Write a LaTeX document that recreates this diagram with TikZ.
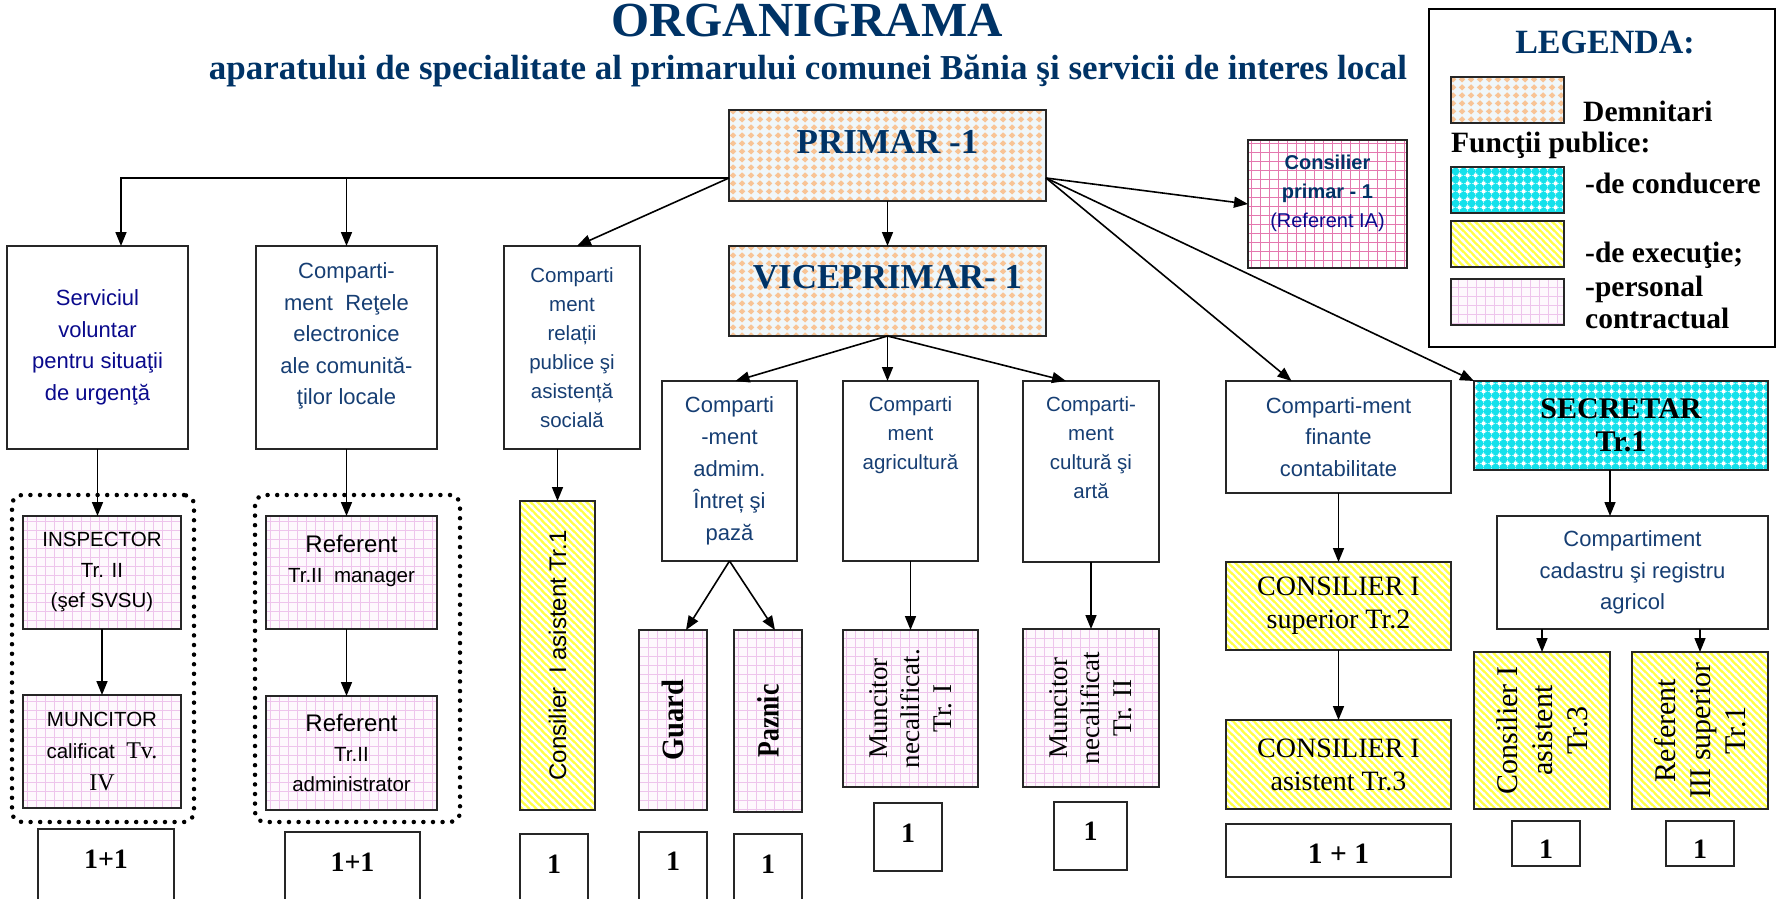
\documentclass[tikz,border=0pt]{standalone}
\usepackage{fontspec}
\setmainfont{Liberation Serif}
\setsansfont{Liberation Sans}
\usetikzlibrary{arrows.meta,patterns,calc}

\definecolor{titleblue}{RGB}{0,51,102}
\definecolor{tblue}{RGB}{22,62,115}
\definecolor{navyc}{RGB}{10,10,140}
\definecolor{peach}{RGB}{248,196,150}
\definecolor{peachbg}{RGB}{240,247,250}
\definecolor{cyanc}{RGB}{20,225,235}
\definecolor{yel}{RGB}{255,255,70}
\definecolor{pinkg}{RGB}{238,196,236}
\definecolor{pinkbg}{RGB}{254,248,253}
\definecolor{pinkst}{RGB}{228,120,175}

\pgfdeclarepatternformonly{pdiam}{\pgfqpoint{0pt}{0pt}}{\pgfqpoint{9pt}{8pt}}{\pgfqpoint{9pt}{8pt}}{%
  \pgfpathmoveto{\pgfqpoint{4.5pt}{0.6pt}}%
  \pgfpathlineto{\pgfqpoint{8.1pt}{4pt}}%
  \pgfpathlineto{\pgfqpoint{4.5pt}{7.4pt}}%
  \pgfpathlineto{\pgfqpoint{0.9pt}{4pt}}%
  \pgfpathclose
  \pgfusepath{fill}}
\pgfdeclarepatternformonly{cchk}{\pgfqpoint{0pt}{0pt}}{\pgfqpoint{8pt}{8pt}}{\pgfqpoint{8pt}{8pt}}{%
  \pgfpathrectangle{\pgfqpoint{2pt}{2pt}}{\pgfqpoint{4pt}{4pt}}%
  \pgfusepath{fill}%
  \pgfsetlinewidth{0.6pt}%
  \pgfpathmoveto{\pgfqpoint{0pt}{4pt}}\pgfpathlineto{\pgfqpoint{8pt}{4pt}}%
  \pgfpathmoveto{\pgfqpoint{4pt}{0pt}}\pgfpathlineto{\pgfqpoint{4pt}{8pt}}%
  \pgfusepath{stroke}}
\pgfdeclarepatternformonly{pgrid}{\pgfqpoint{-0.5pt}{-0.5pt}}{\pgfqpoint{9.5pt}{9.5pt}}{\pgfqpoint{9pt}{9pt}}{%
  \pgfsetlinewidth{0.7pt}%
  \pgfpathmoveto{\pgfqpoint{-0.5pt}{0pt}}\pgfpathlineto{\pgfqpoint{9.5pt}{0pt}}%
  \pgfpathmoveto{\pgfqpoint{0pt}{-0.5pt}}\pgfpathlineto{\pgfqpoint{0pt}{9.5pt}}%
  \pgfusepath{stroke}}
\pgfdeclarepatternformonly{ystr}{\pgfqpoint{-1pt}{-1pt}}{\pgfqpoint{8pt}{8pt}}{\pgfqpoint{7pt}{7pt}}{%
  \pgfsetlinewidth{2.2pt}%
  \pgfpathmoveto{\pgfqpoint{-1pt}{8pt}}\pgfpathlineto{\pgfqpoint{8pt}{-1pt}}%
  \pgfpathmoveto{\pgfqpoint{-1pt}{1pt}}\pgfpathlineto{\pgfqpoint{1pt}{-1pt}}%
  \pgfpathmoveto{\pgfqpoint{6pt}{8pt}}\pgfpathlineto{\pgfqpoint{8pt}{6pt}}%
  \pgfusepath{stroke}}

\newcommand\bx[6][]{\node[box,#1,minimum width={#4-#2},minimum height={#5-#3}] (#6) at ({(#2+#4)/2},{(#3+#5)/2})}

\tikzset{
  box/.style={draw=black!85, line width=1.7pt, inner sep=1pt, outer sep=0pt},
  dem/.style={preaction={fill=peachbg}, pattern=pdiam, pattern color=peach},
  cond/.style={preaction={fill=cyanc}, pattern=cchk, pattern color=white},
  exec/.style={preaction={fill=yel}, pattern=ystr, pattern color=white},
  pers/.style={preaction={fill=pinkbg}, pattern=pgrid, pattern color=pinkg},
  cpr/.style={preaction={fill=white}, pattern=pgrid, pattern color=pinkst},
  dotgrp/.style={draw=black, line width=4.5pt, dash pattern=on 0pt off 9.6pt, line cap=round, rounded corners=10pt, inner sep=0pt},
  lbox/.style={draw=black, line width=2pt},
  t22/.style={font=\sffamily\fontsize{22}{31.5}\selectfont, text=tblue, align=center},
  t20/.style={font=\sffamily\fontsize{20.5}{29}\selectfont, text=tblue, align=center},
  tblk/.style={font=\sffamily\fontsize{20.5}{30.5}\selectfont, text=black, align=center},
  ptext/.style={anchor=base, font=\rmfamily\bfseries\fontsize{35}{35}\selectfont, text=titleblue, inner sep=0pt},
  lgt/.style={anchor=base west, font=\rmfamily\bfseries\fontsize{29.5}{29.5}\selectfont, inner sep=0pt},
  numt/.style={anchor=base, font=\rmfamily\bfseries\fontsize{28}{28}\selectfont, inner sep=0pt},
  arr/.style={line width=1.6pt, -{Triangle[length=14pt,width=11pt]}},
}

\begin{document}
\begin{tikzpicture}[x=1pt,y=-1pt]
\useasboundingbox (0,0) rectangle (1777,899);

% titles
\node[anchor=base, inner sep=0pt, font=\rmfamily\bfseries\fontsize{49}{49}\selectfont, text=titleblue] (title) at (807,37) {ORGANIGRAMA};
\node[anchor=base, inner sep=0pt, font=\rmfamily\bfseries\fontsize{35}{35}\selectfont, text=titleblue] (subtitle) at (808,80) {aparatului de specialitate al primarului comunei Bănia şi servicii de interes local};

% legend
\bx[lbox]{1429}{9}{1775}{347}{legend}{};
\node[anchor=base, inner sep=0pt, font=\rmfamily\bfseries\fontsize{34}{34}\selectfont, text=titleblue] (legT) at (1605,53) {LEGENDA:};
\bx[dem]{1451}{77}{1564}{123}{swA}{};
\bx[cond]{1451}{167}{1564}{213}{swB}{};
\bx[exec]{1451}{221}{1564}{267}{swC}{};
\bx[pers]{1451}{279}{1564}{325}{swD}{};
\node[lgt] (legA) at (1583,121) {Demnitari};
\node[lgt] (legB) at (1451,152) {Funcţii publice:};
\node[lgt] (legC) at (1585,193) {-de conducere};
\node[lgt] (legD) at (1585,262) {-de execuţie;};
\node[lgt] (legE) at (1585,296) {-personal};
\node[lgt] (legF) at (1585,328) {contractual};

% top level
\bx[dem]{729}{110}{1046}{201}{primar}{};
\node[ptext] (primarT) at (887.5,153) {PRIMAR -1};
\bx[dem]{729}{246}{1046}{336}{vice}{};
\node[ptext] (viceT) at (887.5,288) {VICEPRIMAR- 1};
\bx[cpr]{1248}{140}{1407}{268}{cp}{};
\node[font=\sffamily\fontsize{20}{29}\selectfont, align=center, inner sep=0pt] (cpT) at (1327.5,193)
  {\textcolor{titleblue}{\bfseries Consilier}\\\textcolor{titleblue}{\bfseries primar - 1}\\\textcolor{navyc}{(Referent IA)}};

% departments
\bx[t22,text=navyc]{7}{246}{188}{449}{serv}{Serviciul\\voluntar\\pentru situaţii\\de urgenţă};
\bx{256}{246}{437}{449}{ret}{};
\node[t22, inner sep=0pt] (retT) at (346.5,336) {Comparti-\\ment\ \ Reţele\\electronice\\ale comunită-\\ţilor locale};
\bx[t20]{504}{246}{640}{449}{rel}{Comparti\\ment\\relații\\publice şi\\asistență\\socială};
\bx[t22, font=\sffamily\fontsize{22}{32}\selectfont]{662}{381}{797}{561}{adm}{Comparti\\-ment\\admim.\\Întreț şi\\pază};
\bx{843}{381}{978}{561}{agr}{};
\node[t20, anchor=north, inner sep=0pt] (agrT) at (910.5,396) {Comparti\\ment\\agricultură};
\bx{1023}{381}{1159}{562}{cult}{};
\node[t20, anchor=north, inner sep=0pt] (cultT) at (1091,396) {Comparti-\\ment\\cultură şi\\artă};
\bx[t22]{1226}{381}{1451}{493}{fin}{Comparti-ment\\finante\\contabilitate};
\bx[cond, font=\rmfamily\bfseries\fontsize{30}{33}\selectfont, align=center]{1474}{381}{1768}{470}{sec}{SECRETAR\\Tr.1};
\bx[t22]{1497}{516}{1768}{629}{cad}{Compartiment\\cadastru şi registru\\agricol};

% dotted groups
\bx[dotgrp]{12}{495}{194}{822}{grp1}{};
\bx[dotgrp]{255}{495}{460}{822}{grp2}{};

% staff boxes
\bx[pers,tblk]{23}{516}{181}{629}{insp}{INSPECTOR\\Tr. II\\(şef SVSU)};
\bx[pers,tblk, font=\sffamily\fontsize{20.5}{32}\selectfont]{23}{695}{181}{808}{munc}{MUNCITOR\\calificat\ \ {\rmfamily\fontsize{24}{32}\selectfont Tv.}\\{\rmfamily\fontsize{24}{32}\selectfont IV}};
\bx[pers]{266}{516}{437}{629}{refm}{};
\node[tblk, inner sep=0pt] (refmT) at (351.5,561) {{\fontsize{24}{31}\selectfont Referent}\\Tr.II\ \ manager};
\bx[pers,tblk, font=\sffamily\fontsize{20.5}{30}\selectfont]{266}{696}{437}{810}{refa}{{\fontsize{24}{30}\selectfont Referent}\\Tr.II\\administrator};
\bx[exec]{520}{501}{595}{810}{cons1}{\rotatebox{90}{\sffamily\fontsize{24}{24}\selectfont Consilier\ \ I asistent Tr.1}};
\bx[pers]{639}{630}{707}{810}{guard}{\rotatebox{90}{\rmfamily\bfseries\fontsize{31}{31}\selectfont\scalebox{0.92}[1]{Guard}}};
\bx[pers]{734}{630}{802}{812}{paz}{\rotatebox{90}{\rmfamily\bfseries\fontsize{31}{31}\selectfont\scalebox{0.83}[1]{Paznic}}};
\bx[pers]{843}{630}{978}{787}{mnc1}{\rotatebox{90}{\parbox{150pt}{\centering\rmfamily\fontsize{27}{32}\selectfont Muncitor\\necalificat.\\Tr. I}}};
\bx[pers]{1023}{629}{1159}{787}{mnc2}{\rotatebox{90}{\parbox{150pt}{\centering\rmfamily\fontsize{27}{32}\selectfont Muncitor\\necalificat\\Tr. II}}};
\bx[exec, font=\rmfamily\fontsize{28}{33}\selectfont, align=center]{1226}{562}{1451}{650}{csup}{CONSILIER I\\superior Tr.2};
\bx[exec, font=\rmfamily\fontsize{28}{33}\selectfont, align=center]{1226}{720}{1451}{809}{casi}{CONSILIER I\\asistent Tr.3};
\bx[exec]{1474}{652}{1610}{809}{c3}{\rotatebox{90}{\parbox{150pt}{\centering\rmfamily\fontsize{30}{35}\selectfont Consilier I\\asistent\\Tr.3}}};
\bx[exec]{1632}{652}{1768}{809}{r3}{\rotatebox{90}{\parbox{150pt}{\centering\rmfamily\fontsize{30}{35}\selectfont Referent\\III superior\\Tr.1}}};

% number boxes
\bx{38}{829}{174}{912}{nb1}{};
\bx{285}{832}{420}{912}{nb2}{};
\bx{520}{834}{588}{912}{nb3}{};
\bx{639}{832}{707}{912}{nb4}{};
\bx{734}{834}{802}{912}{nb5}{};
\bx{874}{803}{942}{871}{nb6}{};
\bx{1054}{802}{1127}{870}{nb7}{};
\bx{1226}{824}{1451}{877}{nb8}{};
\bx{1512}{821}{1580}{866}{nb9}{};
\bx{1666}{821}{1734}{866}{nb10}{};
\node[numt] (nb1t) at (106,868) {1+1};
\node[numt] (nb2t) at (352.5,871) {1+1};
\node[numt] (nb3t) at (554,873) {1};
\node[numt] (nb4t) at (673,870) {1};
\node[numt] (nb5t) at (768,873) {1};
\node[numt] (nb6t) at (908,842) {1};
\node[numt] (nb7t) at (1090.5,840) {1};
\node[numt, font=\rmfamily\bfseries\fontsize{29.5}{29.5}\selectfont] (nb8t) at (1338.5,863) {1 + 1};
\node[numt] (nb9t) at (1546,858) {1};
\node[numt] (nb10t) at (1700,858) {1};

% connectors
\coordinate (pl) at (primar.west |- 0,178);
\coordinate (pr) at (primar.east |- 0,178);
\draw[arr] (pl) -| (serv.north -| 121,0);
\draw[arr] (pl -| ret.north) -- (ret.north);
\draw[arr] (pl) -- ([xshift=5pt]rel.north);
\draw[arr] (primar.south) -- (vice.north);
\draw[arr] (pr) -- (cp.west);
\draw[arr] (pr) -- ([xshift=-47pt]fin.north);
\draw[arr] (pr) -- (sec.north west);
\draw[arr] (vice.south) -- ([xshift=6pt]adm.north);
\draw[arr] (vice.south) -- (vice.south |- agr.north);
\draw[arr] (vice.south) -- ([xshift=-25pt]cult.north);
\draw[arr] (adm.south) -- ([xshift=13pt]guard.north);
\draw[arr] (adm.south) -- ([xshift=7pt]paz.north);
\draw[arr] (cons1.north |- rel.south) -- (cons1.north);
\draw[arr] (agr.south) -- (mnc1.north);
\draw[arr] (cult.south) -- (mnc2.north);
\draw[arr] (fin.south) -- (csup.north);
\draw[arr] (csup.south) -- (casi.north);
\draw[arr] (serv.south) -- (serv.south |- insp.north);
\draw[arr] (insp.south) -- (munc.north);
\draw[arr] (ret.south) -- (ret.south |- refm.north);
\draw[arr] (refm.south -| ret.south) -- (refa.north -| ret.south);
\draw[arr] (c3.north east |- sec.south) -- (c3.north east |- cad.north);
\draw[arr] (cad.south -| c3.north) -- (c3.north);
\draw[arr] (cad.south -| r3.north) -- (r3.north);
\end{tikzpicture}
\end{document}
